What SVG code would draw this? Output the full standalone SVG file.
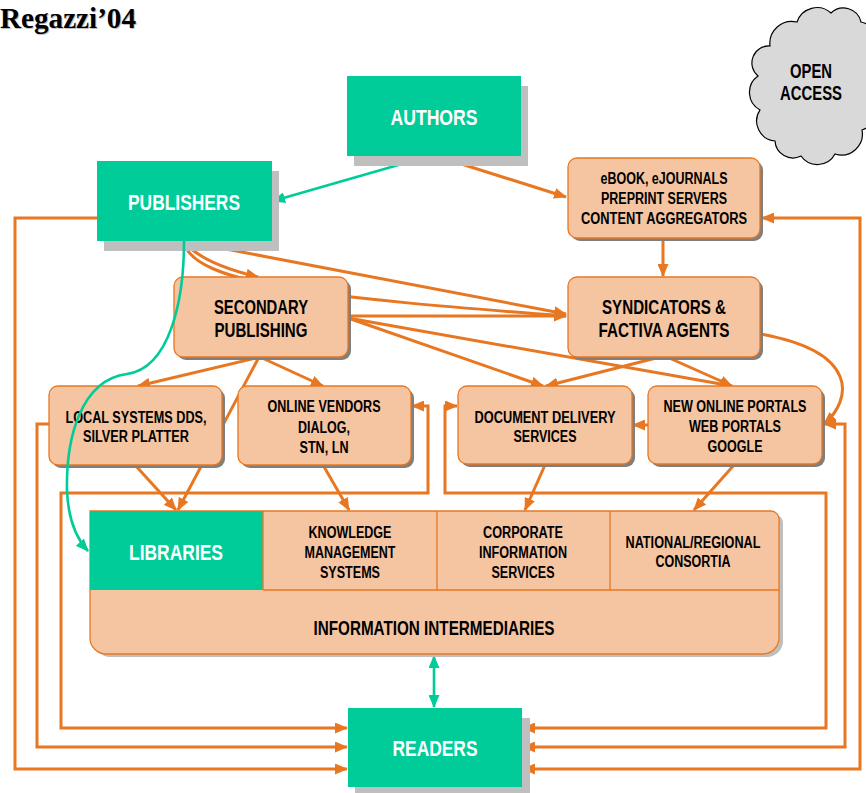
<svg xmlns="http://www.w3.org/2000/svg" width="866" height="793" viewBox="0 0 866 793">
<style>
  .t{font-family:"Liberation Sans",Arial,sans-serif;font-weight:bold;text-anchor:middle}
  .w{fill:#ffffff;font-size:22.5px}
  .k{fill:#000000}
  .s15{font-size:16px}
  .s18{font-size:19.5px}
  .gbox{fill:#00CC99}
  .gsh{fill:#BFBFBF}
  .pbox{fill:#F5C4A0;stroke:#E87722;stroke-width:1.3}
  .psh{fill:#7F7F7F}
  .oc{fill:none;stroke:#E87722;stroke-width:3;stroke-linejoin:miter}
  .gc{fill:none;stroke:#00CC99;stroke-width:2.6}
</style>
<defs>
  <marker id="ao" markerUnits="userSpaceOnUse" markerWidth="13" markerHeight="11" refX="12" refY="5.5" orient="auto-start-reverse">
    <path d="M0,0 L13,5.5 L0,11 z" fill="#E87722"/>
  </marker>
  <marker id="ag" markerUnits="userSpaceOnUse" markerWidth="13" markerHeight="11" refX="12" refY="5.5" orient="auto-start-reverse">
    <path d="M0,0 L13,5.5 L0,11 z" fill="#00CC99"/>
  </marker>
</defs>
<rect width="866" height="793" fill="#ffffff"/>

<g id="title">
  <text x="1" y="29" font-family="Liberation Serif,serif" font-weight="bold" font-size="30" fill="#BFBFBF" textLength="136" lengthAdjust="spacingAndGlyphs">Regazzi’04</text>
  <text x="0" y="28" font-family="Liberation Serif,serif" font-weight="bold" font-size="30" fill="#000000" textLength="136" lengthAdjust="spacingAndGlyphs">Regazzi’04</text>
</g>

<g id="connectors">
  <path class="oc" d="M433,155 L566,197" marker-end="url(#ao)"/>
  <path class="oc" d="M663,238 L663,276" marker-end="url(#ao)"/>
  <path class="oc" d="M184,241 Q200,263 258,277" marker-end="url(#ao)"/>
  <path class="oc" d="M184,241 C190,285 330,298 566,316" marker-end="url(#ao)"/>
  <path class="oc" d="M184,241 L566,314" marker-end="url(#ao)"/>
  <path class="oc" d="M348,316 L566,316" marker-end="url(#ao)"/>
  <path class="oc" d="M348,318 L543,386" marker-end="url(#ao)"/>
  <path class="oc" d="M348,318 L732,386" marker-end="url(#ao)"/>
  <path class="oc" d="M660,357 L546,386" marker-end="url(#ao)"/>
  <path class="oc" d="M667,357 L732,386" marker-end="url(#ao)"/>
  <path class="oc" d="M260,357 L138,386" marker-end="url(#ao)"/>
  <path class="oc" d="M260,357 L323,386" marker-end="url(#ao)"/>
  <path class="oc" d="M259,357 L178,510" marker-end="url(#ao)"/>
  <path class="oc" d="M135,465 L176,510" marker-end="url(#ao)"/>
  <path class="oc" d="M323,465 L349,510" marker-end="url(#ao)"/>
  <path class="oc" d="M545,465 L525,510" marker-end="url(#ao)"/>
  <path class="oc" d="M734,465 L694,510" marker-end="url(#ao)"/>
  <path class="oc" d="M648,425 L633,425" marker-end="url(#ao)"/>
  <path class="oc" d="M761,334 C860,352 852,400 824,424" marker-end="url(#ao)"/>
  <path class="oc" d="M824,424 H845 V747 H523" marker-start="url(#ao)" marker-end="url(#ao)"/>
  <path class="oc" d="M762,218 H860 V769 H523" marker-start="url(#ao)" marker-end="url(#ao)"/>
  <path class="oc" d="M457,406 H445 V493 H826 V728 H523" marker-start="url(#ao)" marker-end="url(#ao)"/>
  <path class="oc" d="M97,218 H15 V769 H347" marker-end="url(#ao)"/>
  <path class="oc" d="M49,424 H37 V747 H347" marker-end="url(#ao)"/>
  <path class="oc" d="M412,406 H428 V493 H61 V728 H347" marker-start="url(#ao)" marker-end="url(#ao)"/>
  <path class="gc" d="M433,155 L273,201" marker-end="url(#ag)"/>
  <path class="gc" d="M434,656 L434,707" marker-start="url(#ag)" marker-end="url(#ag)"/>
</g>

<g id="open-access">
  <path d="M770,46 A22,22 0 0,1 797,22 A21,21 0 0,1 831,13 A18,18 0 0,1 861,22 A20,20 0 0,1 872,55 A23,23 0 0,1 870,95 A21,21 0 0,1 862,130 A21,21 0 0,1 835,154 A20,20 0 0,1 801,156 A18,18 0 0,1 775,141 A20,20 0 0,1 760,110 A20,20 0 0,1 758,76 A17,17 0 0,1 770,46 z" fill="#D9D9D9" stroke="#000000" stroke-width="1.2"/>
  <text class="t k s18" x="811" y="78" textLength="42" lengthAdjust="spacingAndGlyphs">OPEN</text>
  <text class="t k s18" x="811" y="100" textLength="62" lengthAdjust="spacingAndGlyphs">ACCESS</text>
</g>

<g id="authors">
  <rect class="gsh" x="354" y="86" width="174" height="80"/>
  <rect class="gbox" x="347" y="76" width="174" height="80"/>
  <text class="t w" x="434" y="125" textLength="87" lengthAdjust="spacingAndGlyphs">AUTHORS</text>
</g>

<g id="publishers">
  <rect class="gsh" x="104" y="171" width="175" height="80"/>
  <rect class="gbox" x="97" y="161" width="175" height="80"/>
  <text class="t w" x="184" y="210" textLength="112" lengthAdjust="spacingAndGlyphs">PUBLISHERS</text>
</g>

<g id="ebooks">
  <rect class="psh" x="571" y="161" width="192" height="80" rx="9"/>
  <rect class="pbox" x="568" y="158" width="192" height="80" rx="9"/>
  <text class="t k s15" x="664" y="184" textLength="127" lengthAdjust="spacingAndGlyphs">eBOOK, eJOURNALS</text>
  <text class="t k s15" x="664" y="204" textLength="126" lengthAdjust="spacingAndGlyphs">PREPRINT SERVERS</text>
  <text class="t k s15" x="664" y="224" textLength="166" lengthAdjust="spacingAndGlyphs">CONTENT AGGREGATORS</text>
</g>

<g id="syndicators">
  <rect class="psh" x="571" y="280" width="192" height="80" rx="9"/>
  <rect class="pbox" x="568" y="277" width="192" height="80" rx="9"/>
  <text class="t k s18" x="664" y="314" textLength="124" lengthAdjust="spacingAndGlyphs">SYNDICATORS &amp;</text>
  <text class="t k s18" x="664" y="337" textLength="131" lengthAdjust="spacingAndGlyphs">FACTIVA AGENTS</text>
</g>

<g id="secondary">
  <rect class="psh" x="177" y="280" width="174" height="80" rx="9"/>
  <rect class="pbox" x="174" y="277" width="174" height="80" rx="9"/>
  <text class="t k s18" x="261" y="314" textLength="94" lengthAdjust="spacingAndGlyphs">SECONDARY</text>
  <text class="t k s18" x="261" y="337" textLength="93" lengthAdjust="spacingAndGlyphs">PUBLISHING</text>
</g>

<g id="local-systems">
  <rect class="psh" x="52" y="389" width="173" height="79" rx="9"/>
  <rect class="pbox" x="49" y="386" width="173" height="79" rx="9"/>
  <text class="t k s15" x="136" y="423" textLength="141" lengthAdjust="spacingAndGlyphs">LOCAL SYSTEMS DDS,</text>
  <text class="t k s15" x="136" y="442" textLength="106" lengthAdjust="spacingAndGlyphs">SILVER PLATTER</text>
</g>

<g id="online-vendors">
  <rect class="psh" x="241" y="389" width="173" height="79" rx="9"/>
  <rect class="pbox" x="238" y="386" width="173" height="79" rx="9"/>
  <text class="t k s15" x="324" y="412" textLength="113" lengthAdjust="spacingAndGlyphs">ONLINE VENDORS</text>
  <text class="t k s15" x="324" y="433" textLength="52" lengthAdjust="spacingAndGlyphs">DIALOG,</text>
  <text class="t k s15" x="324" y="453" textLength="49" lengthAdjust="spacingAndGlyphs">STN, LN</text>
</g>

<g id="document-delivery">
  <rect class="psh" x="461" y="389" width="174" height="78" rx="9"/>
  <rect class="pbox" x="458" y="386" width="174" height="78" rx="9"/>
  <text class="t k s15" x="545" y="423" textLength="141" lengthAdjust="spacingAndGlyphs">DOCUMENT DELIVERY</text>
  <text class="t k s15" x="545" y="442" textLength="63" lengthAdjust="spacingAndGlyphs">SERVICES</text>
</g>

<g id="portals">
  <rect class="psh" x="651" y="389" width="174" height="78" rx="9"/>
  <rect class="pbox" x="648" y="386" width="174" height="78" rx="9"/>
  <text class="t k s15" x="735" y="412" textLength="143" lengthAdjust="spacingAndGlyphs">NEW ONLINE PORTALS</text>
  <text class="t k s15" x="735" y="432" textLength="92" lengthAdjust="spacingAndGlyphs">WEB PORTALS</text>
  <text class="t k s15" x="735" y="452" textLength="55" lengthAdjust="spacingAndGlyphs">GOOGLE</text>
</g>

<g id="intermediaries">
  <path d="M94,515 H775 A8,8 0 0,1 783,523 V641 A16,16 0 0,1 767,657 H110 A16,16 0 0,1 94,641 z" fill="#BFBFBF"/>
  <path d="M90,511 H771 A8,8 0 0,1 779,519 V638 A16,16 0 0,1 763,654 H106 A16,16 0 0,1 90,638 z" fill="#F5C4A0" stroke="#E87722" stroke-width="1.3"/>
  <rect x="90" y="511" width="173" height="79" fill="#00CC99"/>
  <path d="M263,590 H779 M263,511 V590 M437,511 V590 M610,511 V590" stroke="#E87722" stroke-width="1.3" fill="none"/>
  <text class="t w" x="176" y="560" textLength="94" lengthAdjust="spacingAndGlyphs">LIBRARIES</text>
  <text class="t k s15" x="350" y="538" textLength="83" lengthAdjust="spacingAndGlyphs">KNOWLEDGE</text>
  <text class="t k s15" x="350" y="558" textLength="91" lengthAdjust="spacingAndGlyphs">MANAGEMENT</text>
  <text class="t k s15" x="350" y="578" textLength="60" lengthAdjust="spacingAndGlyphs">SYSTEMS</text>
  <text class="t k s15" x="523" y="538" textLength="80" lengthAdjust="spacingAndGlyphs">CORPORATE</text>
  <text class="t k s15" x="523" y="558" textLength="88" lengthAdjust="spacingAndGlyphs">INFORMATION</text>
  <text class="t k s15" x="523" y="578" textLength="63" lengthAdjust="spacingAndGlyphs">SERVICES</text>
  <text class="t k s15" x="693" y="548" textLength="135" lengthAdjust="spacingAndGlyphs">NATIONAL/REGIONAL</text>
  <text class="t k s15" x="693" y="567" textLength="75" lengthAdjust="spacingAndGlyphs">CONSORTIA</text>
  <text class="t k s18" x="434" y="635" textLength="241" lengthAdjust="spacingAndGlyphs">INFORMATION INTERMEDIARIES</text>
</g>

<g id="readers">
  <rect class="gsh" x="355" y="718" width="175" height="80"/>
  <rect class="gbox" x="348" y="708" width="174" height="79"/>
  <text class="t w" x="435" y="756" textLength="85" lengthAdjust="spacingAndGlyphs">READERS</text>
</g>

<g id="connectors-over">
  <path class="gc" d="M184,241 C184,300 170,368 127,374 C80,380 66,440 67,490 C68,520 76,538 88,551" marker-end="url(#ag)"/>
</g>
</svg>
